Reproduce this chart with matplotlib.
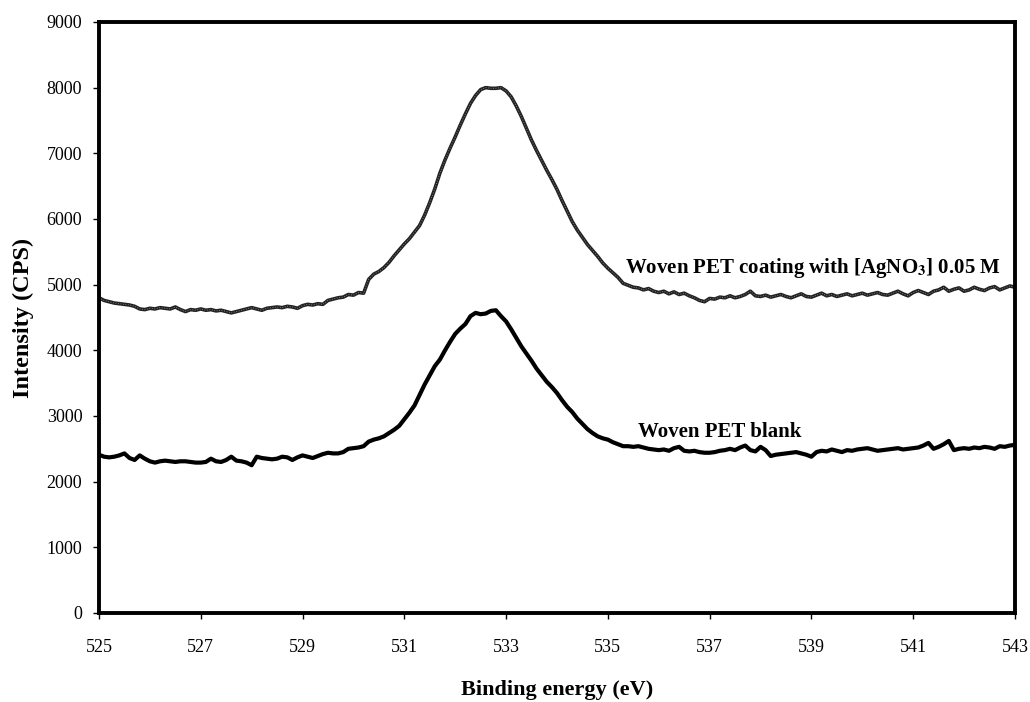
import matplotlib
matplotlib.use("Agg")
import matplotlib.pyplot as plt
import numpy as np

# Binding energy grid (eV), 0.1 eV steps
energy = np.round(np.arange(525.0, 543.05, 0.1), 1)

# Woven PET coated with AgNO3 0.05 M (CPS)
coated = [
    4800, 4760, 4740, 4720, 4710, 4700, 4690, 4670, 4630, 4620,
    4640, 4630, 4650, 4640, 4630, 4660, 4620, 4590, 4620, 4610,
    4630, 4610, 4620, 4600, 4610, 4590, 4570, 4590, 4610, 4630,
    4650, 4630, 4610, 4640, 4650, 4660, 4650, 4670, 4660, 4640,
    4680, 4700, 4690, 4710, 4700, 4760, 4780, 4800, 4810, 4850,
    4840, 4880, 4870, 5080, 5160, 5200, 5260, 5340, 5440, 5530,
    5620, 5700, 5800, 5900, 6060, 6250, 6460, 6700, 6900, 7080,
    7250, 7430, 7600, 7760, 7880, 7970, 8000, 7990, 7990, 8000,
    7950, 7860, 7720, 7560, 7380, 7200, 7040, 6890, 6740, 6600,
    6450, 6280, 6120, 5960, 5830, 5720, 5610, 5520, 5430, 5330,
    5250, 5180, 5110, 5020, 4990, 4960, 4950, 4920, 4940, 4900,
    4880, 4900, 4860, 4890, 4850, 4870, 4830, 4800, 4760, 4740,
    4790, 4780, 4810, 4800, 4830, 4800, 4820, 4850, 4900, 4830,
    4820, 4840, 4810, 4830, 4850, 4820, 4800, 4830, 4860, 4820,
    4810, 4840, 4870, 4830, 4850, 4820, 4840, 4860, 4830, 4850,
    4870, 4840, 4860, 4880, 4850, 4840, 4870, 4900, 4860, 4830,
    4880, 4910, 4880, 4850, 4900, 4920, 4960, 4900, 4930, 4950,
    4900, 4920, 4960, 4930, 4910, 4950, 4970, 4920, 4950, 4980,
    4960,
]

# Woven PET blank (CPS)
blank = [
    2410, 2380, 2370, 2380, 2400, 2430, 2360, 2330, 2400, 2350,
    2310, 2290, 2310, 2320, 2310, 2300, 2310, 2310, 2300, 2290,
    2290, 2300, 2350, 2310, 2300, 2330, 2380, 2320, 2310, 2290,
    2250, 2380, 2360, 2350, 2340, 2350, 2380, 2370, 2330, 2370,
    2400, 2380, 2360, 2390, 2420, 2440, 2430, 2430, 2450, 2500,
    2510, 2520, 2540, 2610, 2640, 2660, 2690, 2740, 2790, 2850,
    2950, 3050, 3160, 3320, 3480, 3620, 3760, 3860, 4000, 4130,
    4250, 4330, 4400, 4520, 4570, 4550, 4560, 4600, 4610, 4520,
    4440, 4320, 4190, 4060, 3950, 3840, 3720, 3620, 3520, 3440,
    3350, 3240, 3140, 3060, 2960, 2880, 2800, 2740, 2690, 2660,
    2640, 2600, 2570, 2540, 2540, 2530, 2540, 2520, 2500, 2490,
    2480, 2490, 2470, 2510, 2530, 2470, 2460, 2470, 2450, 2440,
    2440, 2450, 2470, 2480, 2500, 2480, 2520, 2550, 2480, 2460,
    2530, 2480, 2390, 2410, 2420, 2430, 2440, 2450, 2430, 2410,
    2380, 2450, 2470, 2460, 2490, 2470, 2450, 2480, 2470, 2490,
    2500, 2510, 2490, 2470, 2480, 2490, 2500, 2510, 2490, 2500,
    2510, 2520, 2550, 2590, 2500, 2530, 2570, 2620, 2480, 2500,
    2510, 2500, 2520, 2510, 2530, 2520, 2500, 2540, 2530, 2550,
    2560,
]

xticks = [525, 527, 529, 531, 533, 535, 537, 539, 541, 543]
yticks = [0, 1000, 2000, 3000, 4000, 5000, 6000, 7000, 8000, 9000]

plt.rcParams['font.family'] = ['Liberation Serif', 'DejaVu Serif']
plt.rcParams['mathtext.fontset'] = 'stix'

fig = plt.figure(figsize=(10.3, 7.02), dpi=100)
ax = fig.add_axes([0.0961, 0.1268, 0.8893, 0.8419])

# coated curve: dark line with a light dotted core for the grainy look
ax.plot(energy, coated, color='#222222', lw=2.6, solid_joinstyle='round')
ax.plot(energy, coated, color='#9a9a9a', lw=0.6, ls=(0, (1, 2)))
ax.plot(energy, blank, color='black', lw=3.0, solid_joinstyle='round')

ax.set_xlim(525, 543)
ax.set_ylim(0, 9000)
ax.set_xticks(xticks)
ax.set_yticks(yticks)
ax.tick_params(axis='both', direction='out', length=4, width=1,
               labelsize=13)
ax.tick_params(axis='x', pad=15)
ax.tick_params(axis='y', pad=8)

for spine in ax.spines.values():
    spine.set_linewidth(2.8)

ax.set_xlabel('Binding energy (eV)', fontsize=16, fontweight='bold',
              labelpad=17)
ax.set_ylabel('Intensity (CPS)', fontsize=17.5, fontweight='bold',
              labelpad=9)

ax.text(535.33, 5254, r'Woven PET coating with [AgNO$_\mathbf{3}$] 0.05 M',
        fontsize=15, fontweight='bold', va='center', ha='left')
ax.text(535.59, 2756, 'Woven PET blank',
        fontsize=15, fontweight='bold', va='center', ha='left')

fig.savefig('out.png', dpi=100, facecolor='white')
